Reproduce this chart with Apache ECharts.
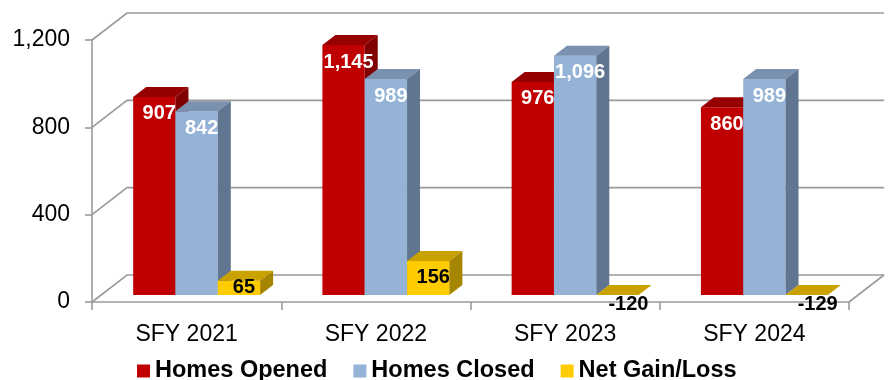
<!DOCTYPE html>
<html>
<head>
<meta charset="utf-8">
<script src="https://cdn.jsdelivr.net/npm/echarts@6/dist/echarts.min.js"></script>
<style>
  html, body { margin: 0; padding: 0; background: #ffffff; }
  #chart { width: 891px; height: 380px; }
</style>
</head>
<body>
<div id="chart"></div>
<script>
// Homes opened / closed per state fiscal year and the resulting net change
const categories = ['SFY 2021', 'SFY 2022', 'SFY 2023', 'SFY 2024'];
const homesOpened = [907, 1145, 976, 860];
const homesClosed = [842, 989, 1096, 989];
const netGainLoss = [65, 156, -120, -129];
const yTicks = [0, 400, 800, 1200];

const FONT = '"Liberation Sans", Arial, Helvetica, sans-serif';
const WALL = [35, -27];    // back wall offset from the axis plane
const PLANE = [10, -7];    // row of bars sits slightly behind the axis plane
const DEPTH = [13, -10];   // depth of each box
const BAR_FRACTION = 0.2236;
const GRID_COLOR = '#9a9a9a';

const fmt = v => v.toLocaleString('en-US');

// Back-wall gridlines, their floor connectors, and the floor edge
function wallItem(params, api) {
  const cs = params.coordSys;
  const v = api.value(1);
  const y = api.coord([0, v])[1];
  const x0 = cs.x, x1 = cs.x + cs.width;
  const children = [{
    type: 'polyline',
    shape: { points: [[x0, y], [x0 + WALL[0], y + WALL[1]], [x1 + WALL[0], y + WALL[1]]] },
    style: { stroke: GRID_COLOR, lineWidth: 1.6, fill: null }
  }];
  if (v === 0) {
    children.push({
      type: 'line',
      shape: { x1: x1, y1: y, x2: x1 + WALL[0], y2: y + WALL[1] },
      style: { stroke: GRID_COLOR, lineWidth: 1.6 }
    });
  }
  return { type: 'group', children: children };
}

// Box-shaped bars: front face, top face, right side face and value label
function boxRenderer(slot, colors) {
  return function (params, api) {
    const c = api.value(0);
    const v = api.value(1);
    const band = api.size([1, 0])[0];
    const w = band * BAR_FRACTION;
    const base = api.coord([c, 0]);
    const top = api.coord([c, Math.max(v, 0)]);
    const xl = base[0] + PLANE[0] - 1.5 * w + slot * w;
    const xr = xl + w;
    const yb = base[1] + PLANE[1];
    const yt = top[1] + PLANE[1];
    const dx = DEPTH[0], dy = DEPTH[1];
    const h = yb - yt;
    const children = [];
    if (h > 0.5) {
      children.push({ type: 'rect', shape: { x: xl, y: yt, width: w, height: h }, style: { fill: colors.front } });
    }
    children.push({
      type: 'polygon',
      shape: { points: [[xl, yt], [xr, yt], [xr + dx, yt + dy], [xl + dx, yt + dy]] },
      style: { fill: colors.top }
    });
    if (h > 0.5) {
      children.push({
        type: 'polygon',
        shape: { points: [[xr, yt], [xr + dx, yt + dy], [xr + dx, yb + dy], [xr, yb]] },
        style: { fill: colors.side }
      });
    }
    const pos = v >= 0
      ? { x: (xl + xr) / 2 + 5, y: yt + Math.min(17, h / 2), fill: colors.label }
      : { x: (xl + xr) / 2 + 11, y: yb + 9, fill: '#000000' };
    children.push({
      type: 'text',
      z2: 100,
      x: pos.x,
      y: pos.y,
      style: {
        text: fmt(v),
        fill: pos.fill,
        font: 'bold 20px ' + FONT,
        align: 'center',
        verticalAlign: 'middle'
      }
    });
    return { type: 'group', children: children };
  };
}

const seriesDefs = [
  { name: 'Homes Opened', values: homesOpened,
    colors: { front: '#c00000', top: '#960000', side: '#800000', label: '#ffffff' } },
  { name: 'Homes Closed', values: homesClosed,
    colors: { front: '#95b3d7', top: '#7a91b0', side: '#607590', label: '#ffffff' } },
  { name: 'Net Gain/Loss', values: netGainLoss,
    colors: { front: '#ffcc00', top: '#c9a200', side: '#a68600', label: '#000000' } }
];

const chart = echarts.init(document.getElementById('chart'), null, { renderer: 'canvas' });

chart.setOption({
  animation: false,
  backgroundColor: '#ffffff',
  grid: { left: 92, right: 42, top: 40, bottom: 78 },
  legend: {
    left: 132,
    top: 354,
    icon: 'rect',
    itemWidth: 13,
    itemHeight: 13,
    itemGap: 26,
    textStyle: { fontFamily: FONT, fontSize: 23.5, fontWeight: 'bold', color: '#000000' },
    data: seriesDefs.map(s => s.name)
  },
  xAxis: {
    type: 'category',
    data: categories,
    axisLine: { lineStyle: { color: GRID_COLOR, width: 1.6 } },
    axisTick: { show: true, length: 8, lineStyle: { color: GRID_COLOR, width: 1.6 } },
    axisLabel: { fontFamily: FONT, fontSize: 23, color: '#000000', margin: 21 },
    splitLine: { show: false }
  },
  yAxis: {
    type: 'value',
    min: 0,
    max: 1200,
    interval: 400,
    axisLine: { show: true, lineStyle: { color: GRID_COLOR, width: 1.6 } },
    axisTick: { show: true, length: 7, lineStyle: { color: GRID_COLOR, width: 1.6 } },
    axisLabel: { fontFamily: FONT, fontSize: 23, color: '#000000', margin: 22, formatter: v => fmt(v) },
    splitLine: { show: false }
  },
  series: [
    {
      type: 'custom',
      silent: true,
      renderItem: wallItem,
      data: yTicks.map(v => [0, v]),
      encode: { x: 0, y: 1 }
    }
  ].concat(seriesDefs.map((s, i) => ({
    type: 'custom',
    name: s.name,
    itemStyle: { color: s.colors.front },
    renderItem: boxRenderer(i, s.colors),
    data: s.values.map((v, c) => [c, v]),
    encode: { x: 0, y: 1 }
  })))
});
</script>
</body>
</html>
